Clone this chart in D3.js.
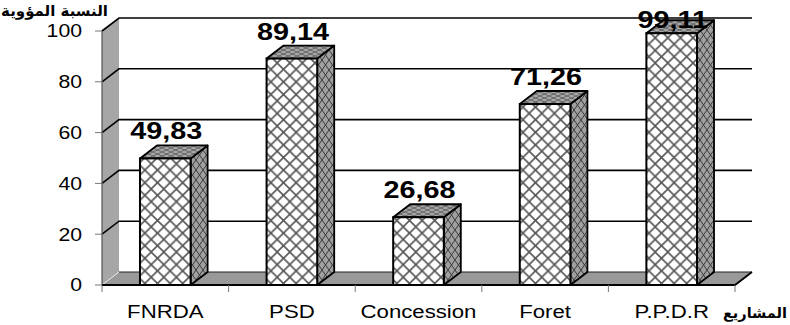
<!DOCTYPE html>
<html>
<head>
<meta charset="utf-8">
<script src="https://cdn.jsdelivr.net/npm/d3@7/dist/d3.min.js"></script>
<style>
  html, body { margin: 0; padding: 0; background: #fff; }
  svg { display: block; }
</style>
</head>
<body>
<svg id="chart" width="790" height="325"></svg>
<script>
// Project shares (percent)
const categories = ["FNRDA", "PSD", "Concession", "Foret", "P.P.D.R"];
const values = [49.83, 89.14, 26.68, 71.26, 99.11];
const valueLabels = ["49,83", "89,14", "26,68", "71,26", "99,11"];
const yTicks = [0, 20, 40, 60, 80, 100];
const yTitle = "النسبة المؤوية";
const xTitle = "المشاريع";

(function draw() {
  const svg = d3.select("#chart");
  const pLeft = 102, pRight = 735, pBottom = 285, pTop = 31;
  const dx = 17, dy = 13;               // 3D depth offset
  const latin = "'Liberation Sans', Arial, sans-serif";
  const arabic = "'DejaVu Sans', sans-serif";

  const y = d3.scaleLinear().domain([0, 100]).range([pBottom, pTop]);
  const x = d3.scaleBand().domain(categories).range([pLeft, pRight])
    .paddingInner(0.6).paddingOuter(0.3);
  const step = x.step();

  // ---- patterns ----
  const defs = svg.append("defs");
  function hatch(id, w, h, bg, stroke, sw) {
    const p = defs.append("pattern").attr("id", id)
      .attr("patternUnits", "userSpaceOnUse").attr("width", w).attr("height", h);
    p.append("rect").attr("width", w).attr("height", h).attr("fill", bg);
    p.append("path")
      .attr("d", `M0,0L${w},${h}M${w},0L0,${h}M${-w},0L${w},${2*h}M0,${-h}L${2*w},${h}`)
      .attr("stroke", stroke).attr("stroke-width", sw).attr("fill", "none");
    return p;
  }
  hatch("front", 12.6, 12.6, "#ffffff", "#555", 1.6);
  hatch("side", 7, 10, "#a0a0a0", "#3a3a3a", 1);
  hatch("topf", 9, 4, "#a8a8a8", "#555", 0.8);

  // ---- wall and floor ----
  svg.append("polygon")
    .attr("points", [[pLeft, pBottom], [pLeft, pTop], [pLeft + dx, pTop - dy], [pLeft + dx, pBottom - dy]].join(" "))
    .attr("fill", "#a6a6a6");
  svg.append("polygon")
    .attr("points", [[pLeft, pBottom], [pRight, pBottom], [pRight + dx, pBottom - dy], [pLeft + dx, pBottom - dy]].join(" "))
    .attr("fill", "#999999");

  // floor back edge and wall/floor seam
  svg.append("line")
    .attr("x1", pLeft + dx).attr("x2", pRight + dx)
    .attr("y1", pBottom - dy).attr("y2", pBottom - dy)
    .attr("stroke", "#222").attr("stroke-width", 1.2);
  svg.append("line")
    .attr("x1", pLeft).attr("y1", pBottom).attr("x2", pLeft + dx).attr("y2", pBottom - dy)
    .attr("stroke", "#e8e8e8").attr("stroke-width", 1);

  // gridlines (wall diagonal + back line)
  svg.append("g").selectAll("path").data(yTicks.filter(d => d > 0)).join("path")
    .attr("d", d => `M${pLeft},${y(d)}L${pLeft + dx},${y(d) - dy}L${pRight + dx},${y(d) - dy}`)
    .attr("fill", "none").attr("stroke", "#000").attr("stroke-width", 1.6);

  // y axis line and ticks
  svg.append("line").attr("x1", pLeft).attr("x2", pLeft).attr("y1", pTop).attr("y2", pBottom)
    .attr("stroke", "#555").attr("stroke-width", 1.2);
  svg.append("g").selectAll("line").data(yTicks).join("line")
    .attr("x1", pLeft - 7).attr("x2", pLeft).attr("y1", d => y(d)).attr("y2", d => y(d))
    .attr("stroke", "#777").attr("stroke-width", 1);
  svg.append("g").selectAll("text").data(yTicks).join("text")
    .attr("transform", d => `translate(${pLeft - 20},${y(d)}) scale(1.18,1)`)
    .attr("text-anchor", "end").attr("dominant-baseline", "central")
    .attr("font-family", latin).attr("font-size", 18).attr("fill", "#000")
    .text(d => d);

  // floor front edge / x axis
  svg.append("path")
    .attr("d", `M${pLeft},${pBottom}L${pRight},${pBottom}L${pRight + dx},${pBottom - dy}`)
    .attr("fill", "none").attr("stroke", "#000").attr("stroke-width", 1.8);
  const bounds = categories.map(c => x(c) - step * x.paddingInner() / 2)
    .concat([pRight]);
  svg.append("g").selectAll("line").data(bounds).join("line")
    .attr("x1", d => d).attr("x2", d => d).attr("y1", pBottom).attr("y2", pBottom + 7)
    .attr("stroke", "#777").attr("stroke-width", 1);
  svg.append("g").selectAll("text").data(categories).join("text")
    .attr("transform", d => `translate(${x(d) + x.bandwidth() / 2},318) scale(1.2,1)`)
    .attr("text-anchor", "middle")
    .attr("font-family", latin).attr("font-size", 18.5).attr("fill", "#000")
    .text(d => d);

  // ---- 3D bars ----
  const bw = x.bandwidth();
  const bars = svg.append("g").selectAll("g").data(values).join("g");
  bars.each(function (v, i) {
    const g = d3.select(this);
    const x0 = x(categories[i]), x1 = x0 + bw, yt = y(v), yb = y(0);
    g.append("polygon")
      .attr("points", [[x1, yt], [x1 + dx, yt - dy], [x1 + dx, yb - dy], [x1, yb]].join(" "))
      .attr("fill", "url(#side)").attr("stroke", "#000").attr("stroke-width", 1.8)
      .attr("stroke-linejoin", "round");
    g.append("polygon")
      .attr("points", [[x0, yt], [x0 + dx, yt - dy], [x1 + dx, yt - dy], [x1, yt]].join(" "))
      .attr("fill", "url(#topf)").attr("stroke", "#000").attr("stroke-width", 1.8)
      .attr("stroke-linejoin", "round");
    g.append("rect")
      .attr("x", x0).attr("y", yt).attr("width", bw).attr("height", yb - yt)
      .attr("fill", "url(#front)").attr("stroke", "#000").attr("stroke-width", 2);
  });

  // value labels
  svg.append("g").selectAll("text").data(values).join("text")
    .attr("transform", (v, i) => {
      const cx = x(categories[i]) + bw / 2 + 1;
      const by = Math.max(y(v) - dy - 6, 28);
      return `translate(${cx},${by}) scale(1.2,1)`;
    })
    .attr("text-anchor", "middle")
    .attr("font-family", latin).attr("font-weight", "bold").attr("font-size", 24)
    .attr("fill", "#000")
    .text((v, i) => valueLabels[i]);

  // axis titles
  svg.append("text")
    .attr("x", 108).attr("y", 16).attr("text-anchor", "end")
    .attr("font-family", arabic).attr("font-weight", "bold").attr("font-size", 15)
    .attr("fill", "#000").text(yTitle);
  svg.append("text")
    .attr("x", 787).attr("y", 318).attr("text-anchor", "end")
    .attr("font-family", arabic).attr("font-weight", "bold").attr("font-size", 14.5)
    .attr("fill", "#000").text(xTitle);
})();
</script>
</body>
</html>
